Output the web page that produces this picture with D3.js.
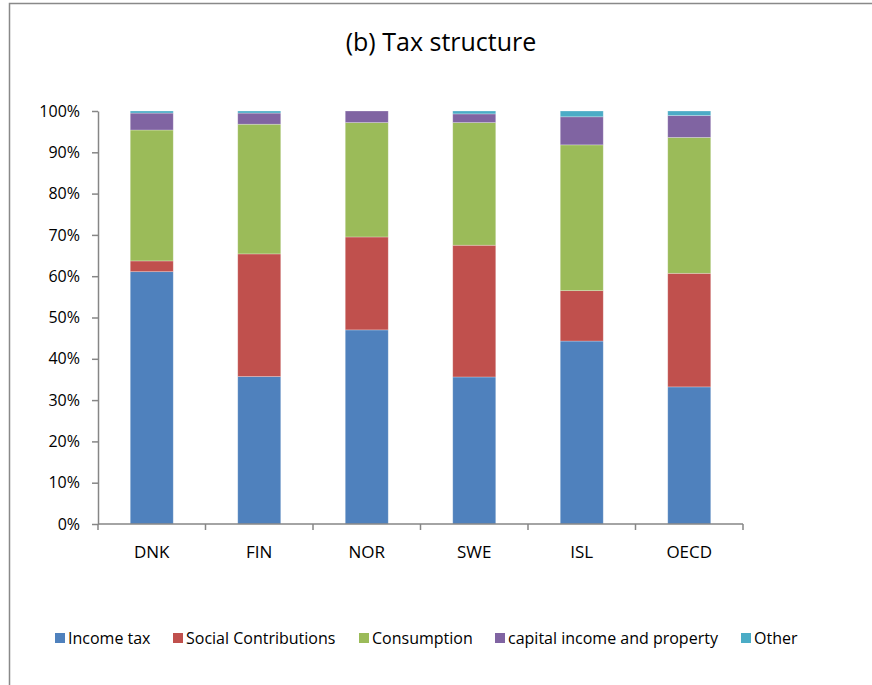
<!DOCTYPE html>
<html>
<head>
<meta charset="utf-8">
<script src="https://cdn.jsdelivr.net/npm/d3@7"></script>
<style>
  body { margin: 0; background: #fff; }
  svg { display: block; font-family: "Open Sans", sans-serif; }
  .axis path, .axis line { stroke: #868686; stroke-width: 1.5; }
  .axis text { fill: #000; font-family: "Open Sans", sans-serif; }
</style>
</head>
<body>
<div class="wrapper"></div>
<script>
var countries = ["DNK", "FIN", "NOR", "SWE", "ISL", "OECD"];
var seriesNames = ["Income tax", "Social Contributions", "Consumption", "capital income and property", "Other"];
var incomeTax = [61.1, 35.7, 47.0, 35.6, 44.3, 33.2];
var socialContributions = [2.6, 29.7, 22.5, 31.9, 12.2, 27.5];
var consumption = [31.7, 31.4, 27.7, 29.7, 35.3, 32.9];
var capitalProperty = [4.1, 2.7, 2.8, 2.1, 6.8, 5.3];
var other = [0.5, 0.5, 0.0, 0.7, 1.4, 1.1];
var yTicks = [0, 10, 20, 30, 40, 50, 60, 70, 80, 90, 100];
var colors = ["#4F81BD", "#C0504D", "#9BBB59", "#8064A2", "#4BACC6"];

var width = 872,
  height = 685;
var margin = { top: 111, left: 98, right: 129, bottom: 161 };

var svg = d3
  .select(".wrapper")
  .append("svg")
  .attr("width", width)
  .attr("height", height);

// outer chart frame (right and bottom edges fall outside the picture)
svg
  .append("rect")
  .attr("x", 9.5)
  .attr("y", 3.5)
  .attr("width", 900)
  .attr("height", 720)
  .attr("fill", "none")
  .attr("stroke", "#898989")
  .attr("stroke-width", 1.5);

svg
  .append("text")
  .attr("x", 441)
  .attr("y", 51)
  .attr("text-anchor", "middle")
  .style("font-size", "25px")
  .text("(b) Tax structure");

var rows = countries.map((c, i) => ({
  country: c,
  "Income tax": incomeTax[i],
  "Social Contributions": socialContributions[i],
  Consumption: consumption[i],
  "capital income and property": capitalProperty[i],
  Other: other[i]
}));

var stacked = d3.stack().keys(seriesNames)(rows);

var x = d3
  .scaleBand()
  .domain(countries)
  .range([margin.left, width - margin.right])
  .paddingInner(0)
  .paddingOuter(0);

var y = d3
  .scaleLinear()
  .domain([0, 100])
  .range([height - margin.bottom, margin.top]);

var barWidth = x.bandwidth() * 0.4;

var layers = svg
  .append("g")
  .selectAll("g")
  .data(stacked)
  .enter()
  .append("g")
  .attr("fill", (d, i) => colors[i]);

layers
  .selectAll("rect")
  .data(d => d)
  .enter()
  .append("rect")
  .attr("x", d => x(d.data.country) + (x.bandwidth() - barWidth) / 2)
  .attr("width", barWidth)
  .attr("y", d => y(d[1]))
  .attr("height", d => y(d[0]) - y(d[1]))
  .attr("stroke", "rgba(255,255,255,0.35)")
  .attr("stroke-width", 0.75);

// y axis
var yAxis = svg
  .append("g")
  .attr("class", "axis")
  .attr("transform", `translate(${margin.left},0)`)
  .call(
    d3
      .axisLeft(y)
      .tickValues(yTicks)
      .tickSize(6)
      .tickSizeOuter(0)
      .tickPadding(12)
      .tickFormat(d => d + "%")
  );
yAxis.attr("font-family", null);
yAxis.selectAll("text").style("font-size", "16px");

// x axis, ticks sit on the category boundaries
var xAxis = svg
  .append("g")
  .attr("class", "axis")
  .attr("transform", `translate(0,${height - margin.bottom})`)
  .call(d3.axisBottom(x).tickSize(0).tickSizeOuter(0).tickPadding(22));
xAxis.attr("font-family", null);
xAxis.select(".domain").attr("d", `M${margin.left},0H${width - margin.right}`);
xAxis.selectAll(".tick line").remove();
xAxis.selectAll("text").style("font-size", "17px");

xAxis
  .selectAll(".boundary")
  .data(countries.concat([null]))
  .enter()
  .append("line")
  .attr("class", "boundary")
  .attr("x1", (d, i) => margin.left + i * x.step())
  .attr("x2", (d, i) => margin.left + i * x.step())
  .attr("y1", 0)
  .attr("y2", 6);

// legend
var legendX = [55, 173, 359, 495, 741];
var legend = svg
  .append("g")
  .selectAll("g")
  .data(seriesNames)
  .enter()
  .append("g")
  .attr("transform", (d, i) => `translate(${legendX[i]},633)`);

legend
  .append("rect")
  .attr("width", 10)
  .attr("height", 10)
  .attr("fill", (d, i) => colors[i]);

legend
  .append("text")
  .attr("x", 13)
  .attr("y", 11)
  .style("font-size", "16px")
  .text(d => d);
</script>
</body>
</html>
